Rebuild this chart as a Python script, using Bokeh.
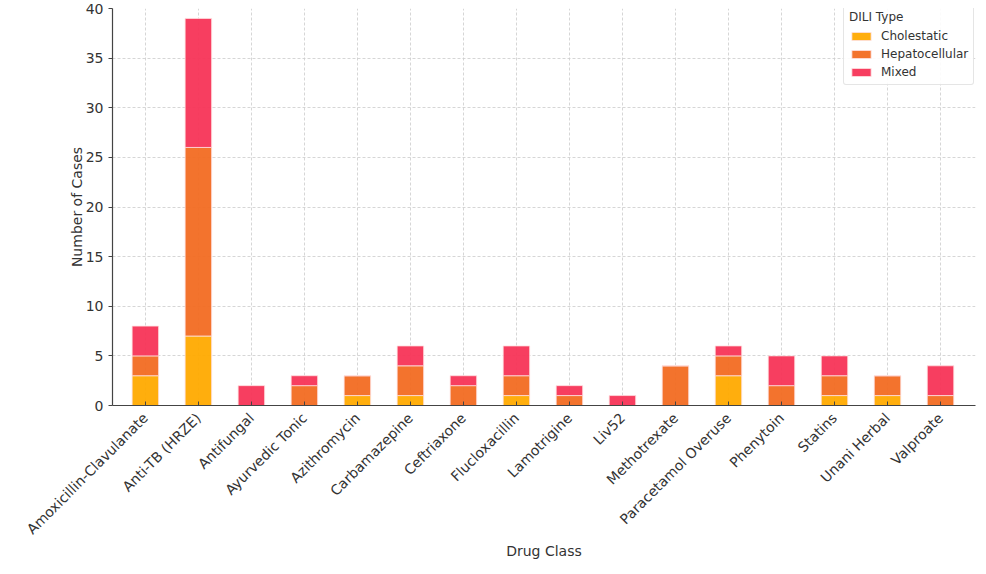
import numpy as np
from bokeh.plotting import figure
from bokeh.models import Range1d, FixedTicker, ColumnDataSource, Legend, LegendItem
from bokeh.embed import file_html
from bokeh.resources import INLINE

drugs = ["Amoxicillin-Clavulanate", "Anti-TB (HRZE)", "Antifungal", "Ayurvedic Tonic",
         "Azithromycin", "Carbamazepine", "Ceftriaxone", "Flucloxacillin", "Lamotrigine",
         "Liv52", "Methotrexate", "Paracetamol Overuse", "Phenytoin", "Statins",
         "Unani Herbal", "Valproate"]
cholestatic = [3, 7, 0, 0, 1, 1, 0, 1, 0, 0, 0, 3, 0, 1, 1, 0]
hepatocellular = [2, 19, 0, 2, 2, 3, 2, 2, 1, 0, 4, 2, 2, 2, 2, 1]
mixed = [3, 13, 2, 1, 0, 2, 1, 3, 1, 1, 0, 1, 3, 2, 0, 3]
types = ["Cholestatic", "Hepatocellular", "Mixed"]
colors = ["#FFAA00", "#F26B22", "#F73457"]
y_ticks = [0, 5, 10, 15, 20, 25, 30, 35, 40]

xpos = list(range(len(drugs)))
src = ColumnDataSource(dict(x=xpos, Cholestatic=cholestatic,
                            Hepatocellular=hepatocellular, Mixed=mixed))

p = figure(width=980, height=570, output_backend="svg", toolbar_location=None,
           x_range=Range1d(-0.62, 15.66), y_range=Range1d(0, 40),
           min_border_left=112, min_border_right=5, min_border_top=8, min_border_bottom=165)
p.outline_line_color = None
p.background_fill_color = "white"

renderers = p.vbar_stack(types, x="x", width=0.5, source=src, color=colors,
                         line_color="#ffe0e0", line_width=0.8, fill_alpha=0.95)

font = "DejaVu Sans"
p.xaxis.ticker = FixedTicker(ticks=xpos)
p.xaxis.major_label_overrides = {i: d for i, d in enumerate(drugs)}
p.xaxis.major_label_orientation = np.pi / 4
p.yaxis.ticker = FixedTicker(ticks=y_ticks)
for ax in (p.xaxis, p.yaxis):
    ax.major_label_text_font = font
    ax.major_label_text_font_size = "14px"
    ax.major_label_text_color = "#333333"
    ax.axis_label_text_font = font
    ax.axis_label_text_font_size = "14px"
    ax.axis_label_text_font_style = "normal"
    ax.axis_label_text_color = "#333333"
    ax.axis_line_color = "#444444"
    ax.axis_line_width = 1.2
    ax.major_tick_line_color = "#444444"
    ax.minor_tick_line_color = None
p.xaxis.major_tick_in = 4
p.xaxis.major_tick_out = 0
p.yaxis.major_tick_in = 0
p.yaxis.major_tick_out = 4
p.xaxis.axis_label = "Drug Class"
p.yaxis.axis_label = "Number of Cases"
p.xaxis.major_label_standoff = 10
p.xaxis.axis_label_standoff = -3
p.yaxis.axis_label_standoff = -2

for g in (p.xgrid, p.ygrid):
    g.grid_line_color = "#cccccc"
    g.grid_line_dash = "3 2"
    g.grid_line_width = 0.8

legend = Legend(items=[LegendItem(label=t, renderers=[r]) for t, r in zip(types, renderers)],
                location=(731, 320), title="DILI Type")
legend.title_text_font = font
legend.title_text_font_size = "12px"
legend.title_text_font_style = "normal"
legend.title_text_color = "#333333"
legend.label_text_font = font
legend.label_text_font_size = "12px"
legend.label_text_color = "#333333"
legend.border_line_color = "#cccccc"
legend.border_radius = 3
legend.background_fill_alpha = 0.9
legend.glyph_width = 24
legend.glyph_height = 10
legend.label_height = 14
legend.spacing = 4
legend.padding = 5
legend.margin = 0
legend.label_standoff = 8
p.add_layout(legend)

open("out.html", "w").write(file_html(p, INLINE))
